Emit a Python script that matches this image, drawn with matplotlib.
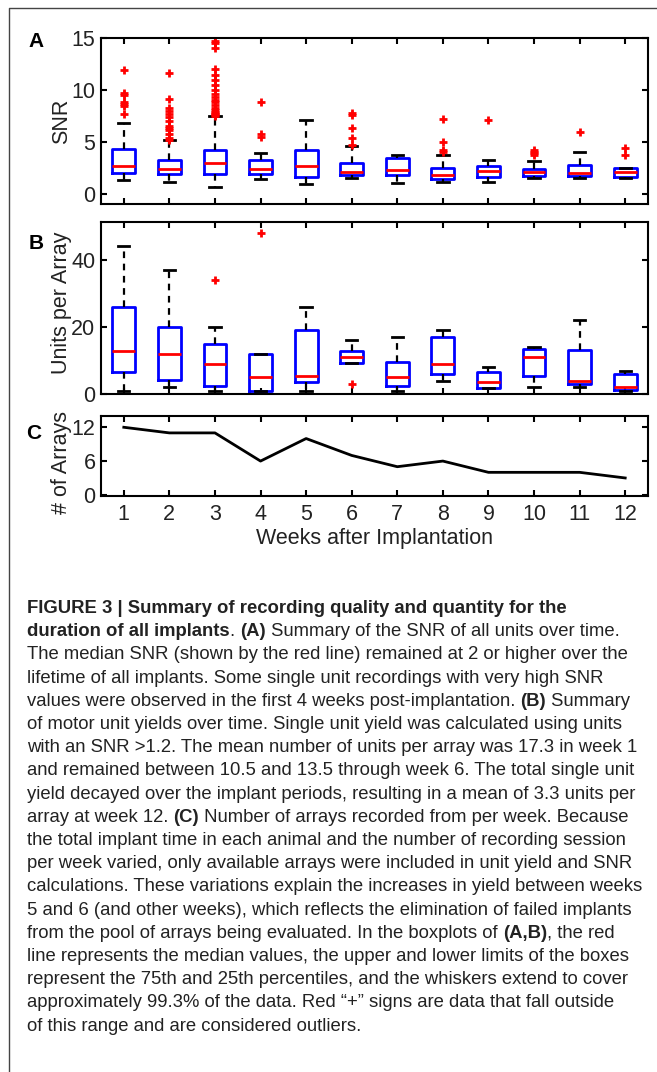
import matplotlib
matplotlib.use('Agg')
import matplotlib.pyplot as plt
from matplotlib.lines import Line2D
from matplotlib.transforms import IdentityTransform

plt.rcParams['font.family'] = ['Liberation Sans', 'DejaVu Sans']

weeks = list(range(1, 13))

# panel A: SNR boxplot stats per week
snr_med = [2.69, 2.37, 2.95, 2.37, 2.63, 2.08, 2.31, 1.82, 2.21, 2.08, 1.98, 2.05]
snr_q1 = [2.01, 1.85, 1.92, 1.85, 1.62, 1.79, 1.82, 1.43, 1.59, 1.69, 1.69, 1.59]
snr_q3 = [4.32, 3.21, 4.25, 3.21, 4.16, 2.95, 3.47, 2.47, 2.63, 2.34, 2.79, 2.50]
snr_lo = [1.27, 1.14, 0.68, 1.40, 0.91, 1.46, 1.04, 1.14, 1.14, 1.46, 1.46, 1.46]
snr_hi = [6.79, 5.16, 7.44, 3.93, 7.05, 4.58, 3.77, 3.70, 3.28, 3.12, 4.06, 2.50]
snr_out = [
    [11.9, 9.7, 9.5, 8.8, 8.6, 8.4, 7.7],
    [11.6, 9.1, 8.3, 8.0, 7.7, 7.4, 7.0, 6.5, 6.3, 6.1, 5.7, 5.4, 5.2],
    [14.7, 14.5, 14.0, 12.0, 11.4, 11.0, 10.5, 10.0, 9.6, 9.3, 9.0, 8.8, 8.5,
     8.3, 8.1, 7.9, 7.8, 7.7, 7.6, 7.5],
    [8.8, 5.7, 5.5],
    [],
    [7.8, 7.6, 6.3, 5.4, 4.7],
    [],
    [7.2, 5.0, 4.2, 4.0],
    [7.1],
    [4.2, 4.0, 3.9, 3.7],
    [5.9],
    [4.4, 3.7],
]

# panel B: units per array
upa_med = [12.9, 12.0, 9.0, 5.0, 5.5, 11.0, 5.0, 9.0, 3.5, 11.0, 4.0, 2.1]
upa_q1 = [6.5, 4.1, 2.5, 0.9, 3.7, 9.1, 2.5, 6.0, 1.9, 5.5, 3.0, 1.2]
upa_q3 = [26.0, 19.9, 14.8, 12.0, 19.1, 12.8, 9.5, 17.0, 6.6, 13.5, 13.0, 5.9]
upa_lo = [1.0, 2.1, 1.0, 0.9, 1.0, 9.1, 1.0, 3.9, 1.9, 2.0, 2.0, 1.0]
upa_hi = [44.0, 37.0, 20.0, 12.0, 26.0, 16.0, 17.0, 19.0, 8.0, 14.1, 22.0, 7.0]
upa_out = [[], [], [34.0], [48.0], [], [3.0], [], [], [], [], [], []]

# panel C: number of arrays
n_arrays = [12, 11, 11, 6, 10, 7, 5, 6, 4, 4, 4, 3]

caption = [
    "**FIGURE 3 | Summary of recording quality and quantity for the**",
    "**duration of all implants**. **(A)** Summary of the SNR of all units over time.",
    "The median SNR (shown by the red line) remained at 2 or higher over the",
    "lifetime of all implants. Some single unit recordings with very high SNR",
    "values were observed in the first 4 weeks post-implantation. **(B)** Summary",
    "of motor unit yields over time. Single unit yield was calculated using units",
    "with an SNR >1.2. The mean number of units per array was 17.3 in week 1",
    "and remained between 10.5 and 13.5 through week 6. The total single unit",
    "yield decayed over the implant periods, resulting in a mean of 3.3 units per",
    "array at week 12. **(C)** Number of arrays recorded from per week. Because",
    "the total implant time in each animal and the number of recording session",
    "per week varied, only available arrays were included in unit yield and SNR",
    "calculations. These variations explain the increases in yield between weeks",
    "5 and 6 (and other weeks), which reflects the elimination of failed implants",
    "from the pool of arrays being evaluated. In the boxplots of **(A,B)**, the red",
    "line represents the median values, the upper and lower limits of the boxes",
    "represent the 75th and 25th percentiles, and the whiskers extend to cover",
    "approximately 99.3% of the data. Red \u201c+\u201d signs are data that fall outside",
    "of this range and are considered outliers.",
]

W, H = 657, 1072
fig = plt.figure(figsize=(W / 100, H / 100), dpi=100)
FS = 15.5
TXT = '#222222'


def px_axes(top, bottom, left=101, right=648):
    return fig.add_axes([left / W, 1 - bottom / H, (right - left) / W, (bottom - top) / H])


def style_axes(ax):
    for s in ax.spines.values():
        s.set_linewidth(1.5)
    ax.tick_params(direction='in', length=4, width=1.5, top=True, right=True,
                   labelsize=FS, pad=4, colors='black', labelcolor=TXT)
    ax.set_xlim(0.5, 12.5)
    ax.set_xticks(weeks)


def draw_box(ax, med, q1, q3, lo, hi, out):
    stats = []
    for i in range(len(weeks)):
        stats.append(dict(med=med[i], q1=q1[i], q3=q3[i], whislo=lo[i],
                          whishi=hi[i], fliers=out[i]))
    ax.bxp(stats, positions=weeks, widths=0.5, showfliers=True,
           boxprops=dict(color='#0000ff', lw=2.0),
           medianprops=dict(color='#ff0000', lw=2.0),
           whiskerprops=dict(color='black', lw=1.6, ls=(0, (3, 2.5))),
           capprops=dict(color='black', lw=2.0),
           flierprops=dict(marker='+', markeredgecolor='#ff0000', markersize=6,
                           markeredgewidth=2.0, ls='none'))


axA = px_axes(38, 204)
draw_box(axA, snr_med, snr_q1, snr_q3, snr_lo, snr_hi, snr_out)
style_axes(axA)
axA.set_ylim(-1, 15)
axA.set_yticks([0, 5, 10, 15])
axA.set_xticklabels([])
axA.set_ylabel('SNR', fontsize=FS, color=TXT)
axA.yaxis.set_label_coords(-0.053, 0.5)

axB = px_axes(222, 394)
draw_box(axB, upa_med, upa_q1, upa_q3, upa_lo, upa_hi, upa_out)
style_axes(axB)
axB.set_ylim(0, 51.3)
axB.set_yticks([0, 20, 40])
axB.set_xticklabels([])
axB.set_ylabel('Units per Array', fontsize=FS, color=TXT)
axB.yaxis.set_label_coords(-0.053, 0.53)

axC = px_axes(416, 496)
axC.plot(weeks, n_arrays, color='black', lw=2.0)
style_axes(axC)
axC.set_ylim(-0.2, 14)
axC.set_yticks([0, 6, 12])
axC.set_xticklabels([str(w) for w in weeks])
axC.tick_params(axis='x', pad=6)
axC.set_xlabel('Weeks after Implantation', fontsize=FS, color=TXT, labelpad=2)
axC.set_ylabel('# of Arrays', fontsize=FS, color=TXT)
axC.yaxis.set_label_coords(-0.053, 0.42)

for lab, x, y in [('A', 28, 47), ('B', 29, 249), ('C', 26, 439)]:
    fig.text(x, H - y, lab, transform=IdentityTransform(), fontsize=15,
             fontweight='bold')

# outer frame (left and top edges)
fig.add_artist(Line2D([9 / W, 9 / W, 1.0], [0.0, 1 - 8 / H, 1 - 8 / H],
                      transform=fig.transFigure, color='#444444', lw=1.0))


def put_line(line, x, y, size):
    # draw one caption line made of regular and **bold** runs
    texts = []
    for i, part in enumerate(line.split('**')):
        if not part:
            continue
        t = fig.text(x, y, part, transform=IdentityTransform(), fontsize=size,
                     fontweight='bold' if i % 2 else 'normal', color=TXT,
                     va='baseline')
        x = t.get_window_extent(renderer).x1
        texts.append(t)
    return x, texts


# caption: size fitted so the widest line spans the text column
renderer = fig.canvas.get_renderer()
widest = 0
for line in caption:
    x_end, probes = put_line(line, 0, -100, 10)
    widest = max(widest, x_end)
    for t in probes:
        t.remove()
cap_size = 10 * 618 / widest
y0, dy = 613, 23.2
for k, line in enumerate(caption):
    put_line(line, 27, H - (y0 + k * dy), cap_size)

fig.savefig('out.png', dpi=100)
